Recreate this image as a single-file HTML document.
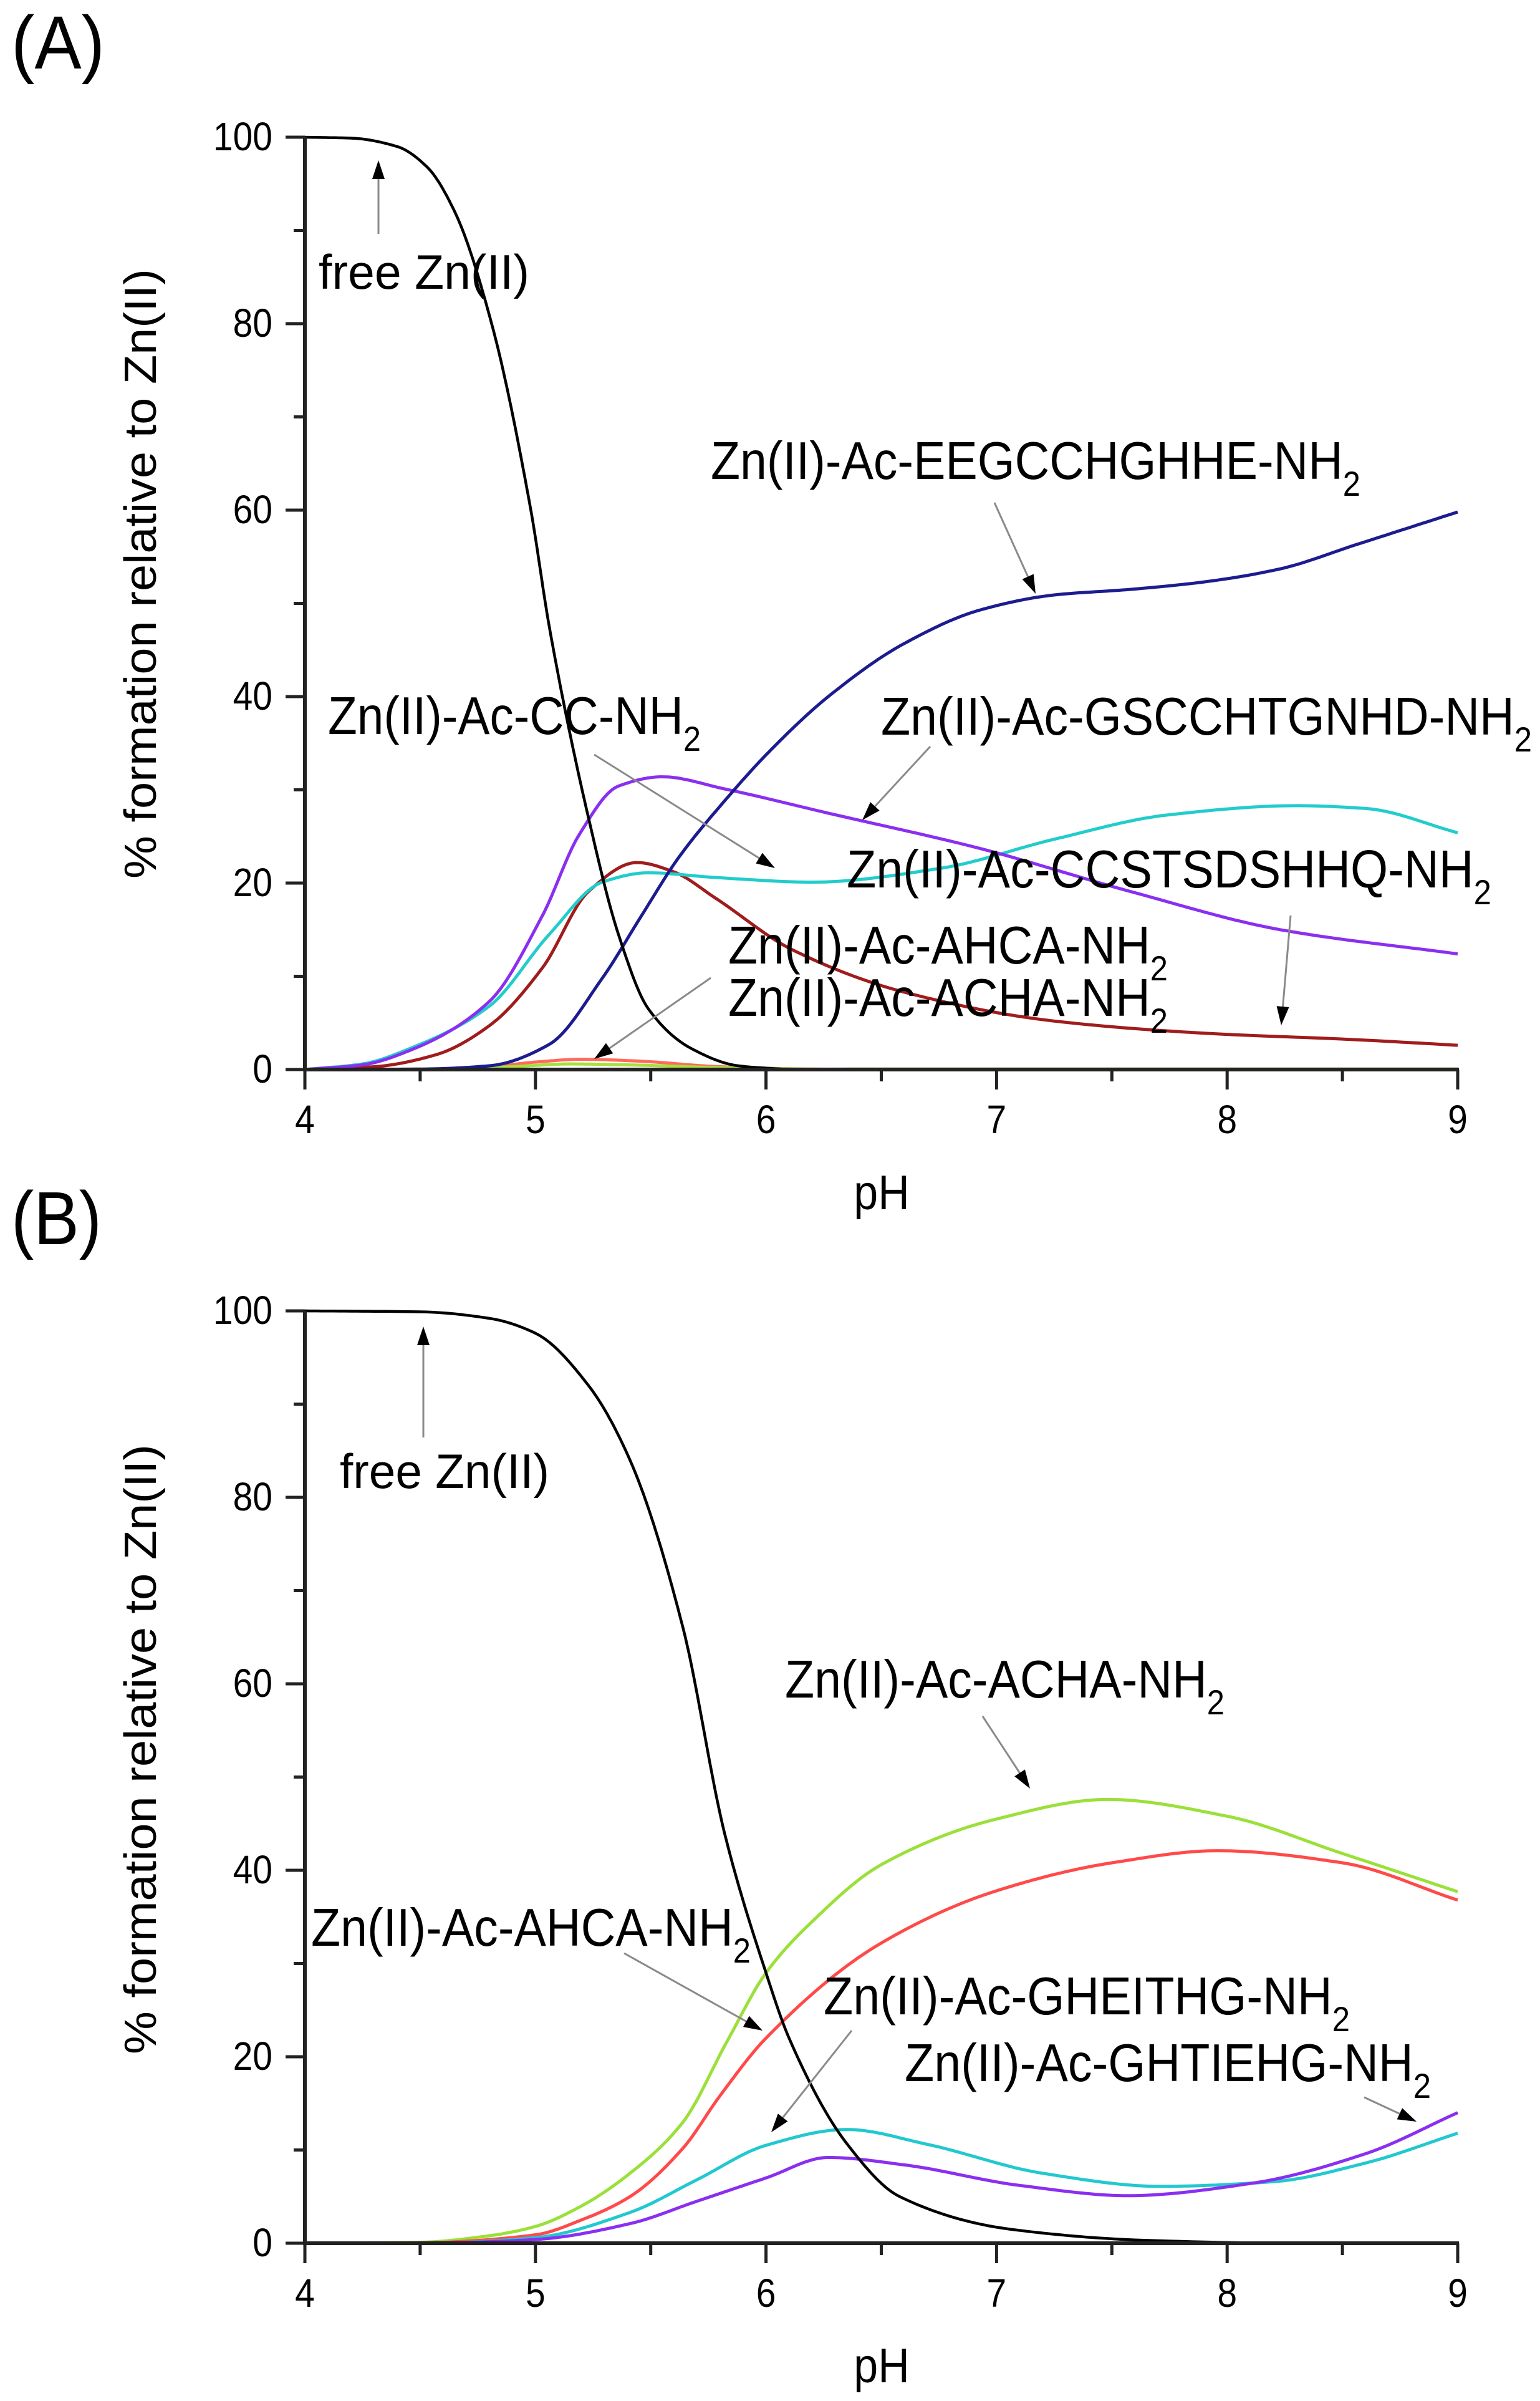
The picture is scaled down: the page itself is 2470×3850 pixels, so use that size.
<!DOCTYPE html>
<html><head><meta charset="utf-8">
<style>
html,body{margin:0;padding:0;background:#fff;}
svg{display:block;}
text{font-family:"Liberation Sans",Arial,sans-serif;fill:#000;}
</style></head>
<body>
<svg id="s" xmlns="http://www.w3.org/2000/svg" width="2470" height="3850" viewBox="0 0 2470 3850">
<rect width="2470" height="3850" fill="#fff"/>
<g id="curves"></g>
<g id="axes" stroke="#222" stroke-width="6" fill="none"></g>
<g id="arrows"></g>

<g transform="translate(18,110) scale(1,1.1)"><text font-size="110" textLength="150" lengthAdjust="spacingAndGlyphs">(A)</text></g>
<g transform="translate(18,1995) scale(1,1.1)"><text font-size="110" textLength="145" lengthAdjust="spacingAndGlyphs">(B)</text></g>

<text transform="translate(250,920) rotate(-90)" font-size="72" text-anchor="middle" textLength="978" lengthAdjust="spacingAndGlyphs">% formation relative to Zn(II)</text>
<text transform="translate(250,2805) rotate(-90)" font-size="72" text-anchor="middle" textLength="978" lengthAdjust="spacingAndGlyphs">% formation relative to Zn(II)</text>

<g transform="translate(1414,1939) scale(1,1.12)"><text font-size="70" text-anchor="middle">pH</text></g>
<g transform="translate(1414,3820) scale(1,1.12)"><text font-size="70" text-anchor="middle">pH</text></g>

<g id="ticklabels"></g>

<g transform="translate(511,463) scale(1,1.12)"><text font-size="70" textLength="338" lengthAdjust="spacingAndGlyphs">free Zn(II)</text></g>
<g transform="translate(1140,768) scale(1,1.12)"><text font-size="76" textLength="1042" lengthAdjust="spacingAndGlyphs">Zn(II)-Ac-EEGCCHGHHE-NH<tspan dy="24" font-size="50">2</tspan></text></g>
<g transform="translate(526,1177) scale(1,1.12)"><text font-size="76" textLength="598" lengthAdjust="spacingAndGlyphs">Zn(II)-Ac-CC-NH<tspan dy="24" font-size="50">2</tspan></text></g>
<g transform="translate(1413,1178) scale(1,1.12)"><text font-size="76" textLength="1044" lengthAdjust="spacingAndGlyphs">Zn(II)-Ac-GSCCHTGNHD-NH<tspan dy="24" font-size="50">2</tspan></text></g>
<g transform="translate(1358,1423) scale(1,1.12)"><text font-size="76" textLength="1034" lengthAdjust="spacingAndGlyphs">Zn(II)-Ac-CCSTSDSHHQ-NH<tspan dy="24" font-size="50">2</tspan></text></g>
<g transform="translate(1168,1545) scale(1,1.12)"><text font-size="76" textLength="705" lengthAdjust="spacingAndGlyphs">Zn(II)-Ac-AHCA-NH<tspan dy="24" font-size="50">2</tspan></text></g>
<g transform="translate(1168,1629) scale(1,1.12)"><text font-size="76" textLength="705" lengthAdjust="spacingAndGlyphs">Zn(II)-Ac-ACHA-NH<tspan dy="24" font-size="50">2</tspan></text></g>

<g transform="translate(545,2386) scale(1,1.12)"><text font-size="70" textLength="336" lengthAdjust="spacingAndGlyphs">free Zn(II)</text></g>
<g transform="translate(1259,2722) scale(1,1.12)"><text font-size="76" textLength="705" lengthAdjust="spacingAndGlyphs">Zn(II)-Ac-ACHA-NH<tspan dy="24" font-size="50">2</tspan></text></g>
<g transform="translate(499,3120) scale(1,1.12)"><text font-size="76" textLength="705" lengthAdjust="spacingAndGlyphs">Zn(II)-Ac-AHCA-NH<tspan dy="24" font-size="50">2</tspan></text></g>
<g transform="translate(1321,3230) scale(1,1.12)"><text font-size="76" textLength="844" lengthAdjust="spacingAndGlyphs">Zn(II)-Ac-GHEITHG-NH<tspan dy="24" font-size="50">2</tspan></text></g>
<g transform="translate(1451,3337) scale(1,1.12)"><text font-size="76" textLength="844" lengthAdjust="spacingAndGlyphs">Zn(II)-Ac-GHTIEHG-NH<tspan dy="24" font-size="50">2</tspan></text></g>
</svg>
<script>
(function(){
var NS="http://www.w3.org/2000/svg";
var X0=489,SX=369.8;
function X(p){return X0+(p-4)*SX;}
function mk(tag,attrs,parent){var e=document.createElementNS(NS,tag);for(var k in attrs)e.setAttribute(k,attrs[k]);parent.appendChild(e);return e;}
function path(pts,y0,color,w){
  var n=pts.length,xs=pts.map(function(a){return a[0];}),ys=pts.map(function(a){return a[1];});
  var d=[],m=[];
  for(var i=0;i<n-1;i++)d.push((ys[i+1]-ys[i])/(xs[i+1]-xs[i]));
  m[0]=d[0];m[n-1]=d[n-2];
  for(var i=1;i<n-1;i++){
    if(d[i-1]*d[i]<=0)m[i]=0;
    else{var h0=xs[i]-xs[i-1],h1=xs[i+1]-xs[i];var w1=2*h1+h0,w2=h1+2*h0;m[i]=(w1+w2)/(w1/d[i-1]+w2/d[i]);}
  }
  var s="";
  for(var i=0;i<n-1;i++){
    var h=xs[i+1]-xs[i];
    for(var k=0;k<=20;k++){
      if(i>0&&k==0)continue;
      var t=k/20,t2=t*t,t3=t2*t;
      var y=(2*t3-3*t2+1)*ys[i]+(t3-2*t2+t)*h*m[i]+(-2*t3+3*t2)*ys[i+1]+(t3-t2)*h*m[i+1];
      var x=xs[i]+t*h;
      s+=(s?" L":"M")+X(x).toFixed(1)+","+(y0-y*14.95).toFixed(1);
    }
  }
  mk("path",{d:s,fill:"none",stroke:color,"stroke-width":w||5,"stroke-linejoin":"round"},document.getElementById("curves"));
}
var A0=1715,B0=3597;
path([[4,0],[5.2,0],[5.8,0],[6.5,0.05],[9,0.05]],A0,"#6a8a2a",5);
path([[4.5,0],[4.8,0.3],[5.0,0.8],[5.2,1.1],[5.45,0.9],[5.8,0.3],[6.2,0.05],[6.6,0]],A0,"#ff6a5a",5);
path([[4.6,0],[4.9,0.3],[5.15,0.6],[5.4,0.5],[5.8,0.2],[6.3,0]],A0,"#a8e040",5);
path([[4,0],[4.3,0.3],[4.57,1.6],[4.8,4.7],[5.03,10.9],[5.23,19.1],[5.44,22.2],[5.6,21.2],[5.78,18.4],[6.11,12.9],[6.6,8.3],[7.25,5.2],[7.9,3.9],[8.56,3.2],[9,2.6]],A0,"#a01c1c",5);
path([[4,0],[4.25,0.6],[4.47,2.4],[4.8,6.8],[5.06,14.5],[5.29,20.1],[5.49,21.1],[5.78,20.6],[6.2,20.1],[6.76,21.6],[7.25,24.7],[7.74,27.3],[8.3,28.3],[8.6,28],[9,25.4]],A0,"#22cccc",5);
path([[4,0],[4.25,0.5],[4.47,2.2],[4.8,7.3],[5.03,16.5],[5.19,25.2],[5.36,30.4],[5.55,31.4],[5.82,30.1],[6.27,27.5],[6.93,23.7],[7.58,19.1],[8.23,15],[9,12.4]],A0,"#8a2ff0",5);
path([[4,0],[4.5,0.05],[4.8,0.4],[5.06,2.7],[5.29,9.8],[5.46,16.5],[5.62,22.7],[5.82,28.8],[6.01,34],[6.27,40],[6.6,45.7],[6.93,49.3],[7.25,50.9],[7.58,51.5],[7.9,52.3],[8.23,53.7],[8.56,56.3],[9,59.8]],A0,"#1c1c90",5);
path([[4,100],[4.2,99.9],[4.4,99],[4.53,96.8],[4.65,92],[4.81,80],[4.98,60],[5.06,47.5],[5.23,27],[5.36,14.5],[5.49,6.5],[5.68,2.2],[5.88,0.4],[6.1,0]],A0,"#000",4.5);
path([[4,0],[4.5,0.1],[4.8,0.8],[5,1.8],[5.2,4],[5.41,7.5],[5.64,13],[5.83,21.6],[6,29],[6.2,34.5],[6.5,40.6],[7,45.5],[7.48,47.6],[8,45.8],[8.5,41.8],[9,37.7]],B0,"#9be03a",5);
path([[4,0],[4.5,0.05],[5,0.9],[5.2,2.5],[5.41,5],[5.64,10.2],[5.8,15.8],[6,22],[6.5,32.2],[7,37.8],[7.5,40.8],[7.96,42.1],[8.5,40.8],[9,36.8]],B0,"#ff4a4a",5);
path([[4,0],[4.6,0.05],[5,0.6],[5.41,3.3],[5.7,6.8],[6,10.5],[6.35,12.2],[6.7,10.6],[7.2,7.5],[7.71,6.1],[8.2,6.6],[8.6,8.6],[9,11.8]],B0,"#22c8d0",5);
path([[4,0],[4.6,0.05],[5,0.4],[5.41,2.1],[5.7,4.5],[6,7],[6.27,9.2],[6.6,8.4],[7.1,6.2],[7.57,5.1],[8.1,6.4],[8.6,9.6],[9,14]],B0,"#8a2ff0",5);
path([[4,100],[4.5,99.9],[4.8,99.2],[5,97.6],[5.23,92],[5.41,84],[5.64,66],[5.82,44],[6,29],[6.1,22],[6.35,10.7],[6.58,5],[7.06,1.5],[7.66,0.3],[8.3,0],[9,0]],B0,"#000",4.5);

var ax=document.getElementById("axes"),tl=document.getElementById("ticklabels");
[A0,B0].forEach(function(y0){
  var ytop=y0-1495;
  mk("line",{x1:X0,y1:ytop,x2:X0,y2:y0+3},ax);
  mk("line",{x1:X0-3,y1:y0,x2:X(9)+2,y2:y0},ax);
  for(var v=0;v<=100;v+=10){
    var y=y0-v*14.95,len=(v%20==0)?31:18;
    mk("line",{x1:X0-len,y1:y,x2:X0,y2:y,"stroke-width":5},ax);
    if(v%20==0){
      var g=mk("g",{transform:"translate(437,"+(y+21)+") scale(1,1.12)"},tl);
      var t=mk("text",{"font-size":"57","text-anchor":"end"},g);t.textContent=v;
    }
  }
  for(var p=4;p<=9.001;p+=0.5){
    var x=X(p),len=(Math.abs(p-Math.round(p))<0.01)?32:19;
    mk("line",{x1:x,y1:y0,x2:x,y2:y0+len,"stroke-width":5},ax);
    if(len==32){
      var g=mk("g",{transform:"translate("+x+","+(y0+102)+") scale(1,1.12)"},tl);
      var t=mk("text",{"font-size":"57","text-anchor":"middle"},g);t.textContent=Math.round(p);
    }
  }
});

var ar=document.getElementById("arrows");
function arrow(x1,y1,x2,y2){
  var dx=x2-x1,dy=y2-y1,L=Math.sqrt(dx*dx+dy*dy),ux=dx/L,uy=dy/L;
  var hl=30,hw=10;
  var bx=x2-ux*hl,by=y2-uy*hl;
  mk("line",{x1:x1,y1:y1,x2:bx,y2:by,stroke:"#8a8a8a","stroke-width":3},ar);
  mk("polygon",{points:x2+","+y2+" "+(bx-uy*hw)+","+(by+ux*hw)+" "+(bx+uy*hw)+","+(by-ux*hw),fill:"#000"},ar);
}
arrow(607,375,607,257);
arrow(1595,806,1661,952);
arrow(953,1210,1243,1392);
arrow(1492,1197,1383,1315);
arrow(2070,1468,2055,1644);
arrow(1140,1568,953,1698);
arrow(679,2305,679,2127);
arrow(1576,2752,1652,2868);
arrow(1001,3132,1223,3256);
arrow(1366,3256,1237,3419);
arrow(2188,3363,2272,3402);
})();
</script>
</body></html>
